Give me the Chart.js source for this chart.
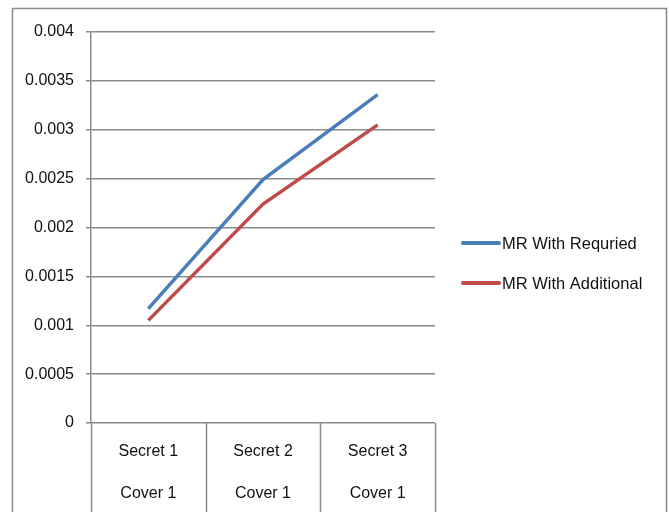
<!DOCTYPE html>
<html>
<head>
<meta charset="utf-8">
<script src="https://cdn.jsdelivr.net/npm/chart.js@4.4.1/dist/chart.umd.min.js"></script>
<style>
  html, body { margin: 0; padding: 0; background: #ffffff; }
  #wrap { width: 669px; height: 512px; position: relative; }
</style>
</head>
<body>
<div id="wrap"><canvas id="c" width="669" height="512"></canvas></div>
<script>
// Two-level category labels: secret image over cover image
const secretLabels = ['Secret 1', 'Secret 2', 'Secret 3'];
const coverLabels = ['Cover 1', 'Cover 1', 'Cover 1'];
const categories = secretLabels.map((s, i) => [s, coverLabels[i]]);

const seriesNames = ['MR With Requried', 'MR With Additional'];
const mrRequired = [0.00117, 0.00249, 0.00336];
const mrAdditional = [0.00105, 0.00224, 0.00305];

const yTickLabels = ['0', '0.0005', '0.001', '0.0015', '0.002', '0.0025', '0.003', '0.0035', '0.004'];

const FONT = '"Liberation Sans", Arial, sans-serif';
const GRID = '#8a8a8a';
const TEXT = '#111111';

// Outer frame, category separators and the side legend
const decorations = {
  id: 'decorations',
  beforeDraw(chart) {
    const ctx = chart.ctx;
    ctx.save();
    ctx.strokeStyle = GRID;
    ctx.lineWidth = 1.5;
    ctx.strokeRect(12.5, 8.5, 654, 520);
    ctx.restore();
  },
  afterDraw(chart) {
    const ctx = chart.ctx;
    const x = chart.scales.x;
    const area = chart.chartArea;
    ctx.save();
    ctx.strokeStyle = GRID;
    ctx.lineWidth = 1.5;
    const n = chart.data.labels.length;
    const bounds = [];
    for (let i = 0; i <= n; i++) {
      const a = x.getPixelForValue(Math.max(i - 1, 0));
      const b = x.getPixelForValue(Math.min(i, n - 1));
      let px;
      if (i === 0) px = area.left;
      else if (i === n) px = area.right;
      else px = (a + b) / 2;
      bounds.push(Math.round(px) + 0.5);
    }
    bounds.forEach(px => {
      ctx.beginPath();
      ctx.moveTo(px, area.bottom);
      ctx.lineTo(px, chart.height);
      ctx.stroke();
    });

    // legend
    ctx.font = '16.5px ' + FONT;
    ctx.textBaseline = 'middle';
    ctx.fillStyle = TEXT;
    chart.data.datasets.forEach((ds, i) => {
      const y = 243 + i * 40;
      ctx.strokeStyle = ds.borderColor;
      ctx.lineWidth = 4;
      ctx.lineCap = 'round';
      ctx.beginPath();
      ctx.moveTo(463, y);
      ctx.lineTo(499, y);
      ctx.stroke();
      ctx.fillText(ds.label, 502, y + 1);
    });
    ctx.restore();
  }
};

new Chart(document.getElementById('c'), {
  type: 'line',
  data: {
    labels: categories,
    datasets: [
      {
        label: seriesNames[0],
        data: mrRequired,
        borderColor: '#4a7ebb',
        backgroundColor: '#4a7ebb',
        borderWidth: 3.5,
        pointRadius: 0,
        tension: 0
      },
      {
        label: seriesNames[1],
        data: mrAdditional,
        borderColor: '#be4b48',
        backgroundColor: '#be4b48',
        borderWidth: 3.5,
        pointRadius: 0,
        tension: 0
      }
    ]
  },
  options: {
    responsive: false,
    animation: false,
    devicePixelRatio: 1,
    layout: { padding: { left: 0, top: 32, right: 234, bottom: 0 } },
    plugins: {
      legend: { display: false },
      tooltip: { enabled: false }
    },
    scales: {
      x: {
        type: 'category',
        offset: true,
        grid: { display: false, drawTicks: false },
        border: { display: false },
        ticks: {
          color: TEXT,
          font: { family: FONT, size: 16, lineHeight: 2.65 },
          padding: 7,
          maxRotation: 0,
          autoSkip: false
        },
        afterFit(scale) { scale.height = 89; }
      },
      y: {
        min: 0,
        max: 0.004,
        grid: { color: GRID, lineWidth: 1.5, tickLength: 5, drawTicks: true },
        border: { display: true, color: GRID, width: 1.5 },
        ticks: {
          stepSize: 0.0005,
          color: TEXT,
          font: { family: FONT, size: 16 },
          padding: 12,
          callback: (v, i) => yTickLabels[i]
        },
        afterFit(scale) { scale.width = 91; }
      }
    }
  },
  plugins: [decorations]
});
</script>
</body>
</html>
